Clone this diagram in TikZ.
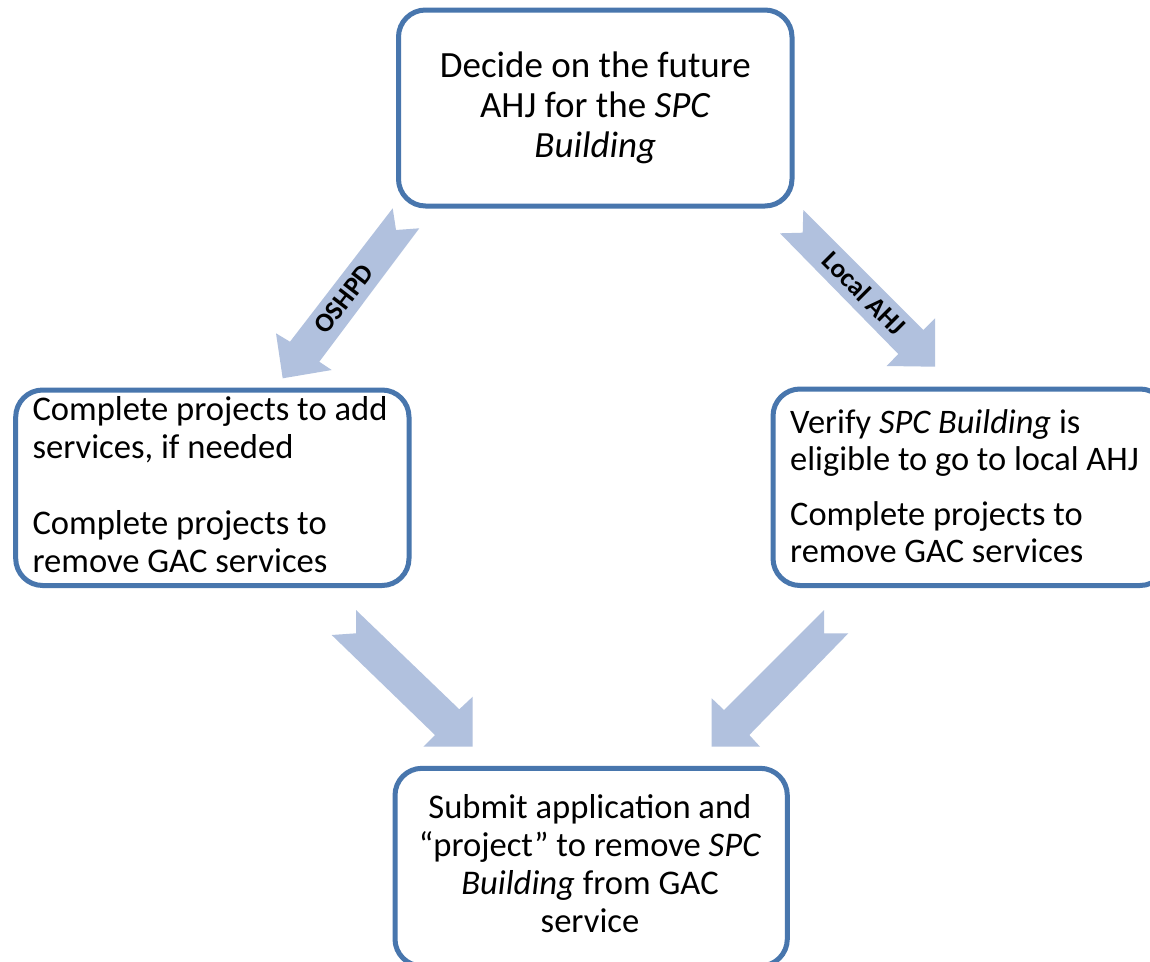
\documentclass[tikz,border=0pt]{standalone}
\usepackage{fontspec}
\setmainfont{Carlito}
\definecolor{boxblue}{RGB}{72,118,173}
\definecolor{arrowfill}{RGB}{177,193,222}
\tikzset{
  box/.style={draw=boxblue, line width=5pt, rectangle, rounded corners=27pt, fill=white, inner sep=0pt},
  blockarrow/.style={fill=arrowfill, draw=none},
  boxtext/.style={inner sep=0pt, font=\fontsize{34.6}{38}\selectfont},
  arrowlabel/.style={inner sep=0pt, font=\bfseries\fontsize{27}{30}\selectfont},
}
\begin{document}
\begin{tikzpicture}[x=1pt,y=-1pt]
\useasboundingbox (0,0) rectangle (1150,961);
\clip (0,0) rectangle (1150,961);
\fill[white] (0,0) rectangle (1150,961);

% block arrows
\fill[blockarrow] (392.7,208.3) -- (396,230) -- (419.3,228.3) -- (319.3,361.7) -- (331.7,370) -- (282.7,378.3) -- (276,333.3) -- (290,341.7) -- cycle;
\fill[blockarrow] (803.3,210) -- (923.3,330) -- (935,318.3) -- (935,366.7) -- (886.7,366) -- (898.3,354) -- (780,233.3) -- (802.7,232.7) -- cycle;
\fill[blockarrow] (356,610) -- (459.3,709.3) -- (472.7,696.7) -- (472.7,746.7) -- (423.3,746.7) -- (435,735) -- (331.7,635) -- (356,633.3) -- cycle;
\fill[blockarrow] (824,610) -- (724,710) -- (711.7,698.3) -- (711.7,746.7) -- (760,746.7) -- (749.3,735) -- (848.3,633.3) -- (824,633.3) -- cycle;

\node[arrowlabel, rotate=52.4] (lblO) at (344,299) {OSHPD};
\node[arrowlabel, rotate=-45] (lblL) at (864,293.3) {Local AHJ};

% boxes
\node[box, minimum width=393.5pt, minimum height=196pt] (top) at (595.25,108) {};
\node[box, minimum width=393.3pt, minimum height=195.5pt] (left) at (212.35,487.75) {};
\node[box, minimum width=394pt, minimum height=196.5pt] (right) at (970,487.25) {};
\node[box, minimum width=392.3pt, minimum height=197.7pt] (bottom) at (591.15,867.15) {};

% texts
\node[boxtext, anchor=base, font=\fontsize{37}{40}\selectfont] (toptext) at (595.3,77.7)
  {\parbox[t]{380pt}{\centering Decide on the future\\AHJ for the \textit{SPC}\\\textit{Building}}};
\node[boxtext, anchor=base west] (lefttext) at (32.3,420)
  {\parbox[t]{378pt}{\raggedright Complete projects to add\\services, if needed\\[38pt]Complete projects to\\remove GAC services}};
\node[boxtext, anchor=base west, font=\fontsize{34.4}{37}\selectfont] (righttext) at (790,433.3)
  {\parbox[t]{378pt}{\raggedright Verify \textit{SPC Building} is\\eligible to go to local AHJ\\[18pt]Complete projects to\\remove GAC services}};
\node[boxtext, anchor=base] (bottomtext) at (590,818.3)
  {\parbox[t]{378pt}{\centering Submit application and\\“project” to remove \textit{SPC}\\\textit{Building} from GAC\\service}};
\end{tikzpicture}
\end{document}
